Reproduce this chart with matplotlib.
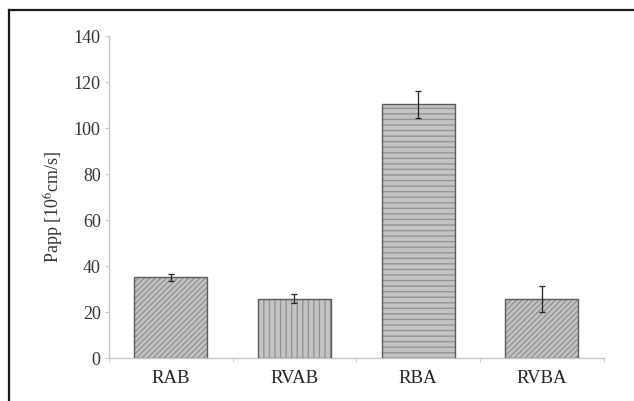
import numpy as np
import matplotlib
matplotlib.use('Agg')
import matplotlib.pyplot as plt
from matplotlib.lines import Line2D

# Data
categories = ['RAB', 'RVAB', 'RBA', 'RVBA']
papp = [35.2, 26.0, 110.3, 26.0]
papp_err = [1.6, 1.9, 6.0, 5.6]
hatches = ['//////', '|||', '---', '//////']

plt.rcParams['font.family'] = ['Liberation Serif', 'DejaVu Serif']
plt.rcParams['hatch.linewidth'] = 1.0
plt.rcParams['mathtext.fontset'] = 'stix'

fig = plt.figure(figsize=(6.34, 4.01), dpi=100)
ax = fig.add_axes([0.172, 0.106, 0.78, 0.804])

x = np.arange(len(categories))
# hatched fill
ax.bar(x, papp, width=0.59, color='#c4c4c4', edgecolor='#939393',
       hatch=hatches, linewidth=0, zorder=2)
# outline
ax.bar(x, papp, width=0.59, fill=False, edgecolor='#5a5a5a',
       linewidth=1.0, zorder=3)
ax.errorbar(x, papp, yerr=papp_err, fmt='none', ecolor='#222222',
            elinewidth=0.9, capsize=2, capthick=0.9, zorder=4)

ax.set_xlim(-0.5, len(categories) - 0.5)
ax.set_ylim(0, 140)
ax.set_yticks(np.arange(0, 141, 20))
ax.set_xticks(x)
ax.set_xticklabels(categories, fontsize=13.5, color='#222222')
ax.set_xticks(np.arange(-0.5, len(categories), 1.0), minor=True)
ax.tick_params(axis='x', which='major', length=0, pad=8)
ax.tick_params(axis='x', which='minor', length=3, color='#c8c8c8', direction='out')
ax.tick_params(axis='y', length=3, color='#c8c8c8', labelsize=13,
               labelcolor='#333333', pad=3)

for s in ['top', 'right']:
    ax.spines[s].set_visible(False)
for s in ['left', 'bottom']:
    ax.spines[s].set_color('#c8c8c8')
    ax.spines[s].set_linewidth(1.0)

ax.set_ylabel('Papp [10$^{6}$cm/s]', fontsize=13, color='#333333')
ax.yaxis.set_label_coords(-0.088, 0.47)

# frame lines on the left and top edge of the picture
fig.add_artist(Line2D([0.014, 0.014], [0.0, 0.975], transform=fig.transFigure,
                      color='#1a1a1a', linewidth=1.6))
fig.add_artist(Line2D([0.014, 1.0], [0.975, 0.975], transform=fig.transFigure,
                      color='#1a1a1a', linewidth=1.6))

fig.savefig('out.png', dpi=100)
